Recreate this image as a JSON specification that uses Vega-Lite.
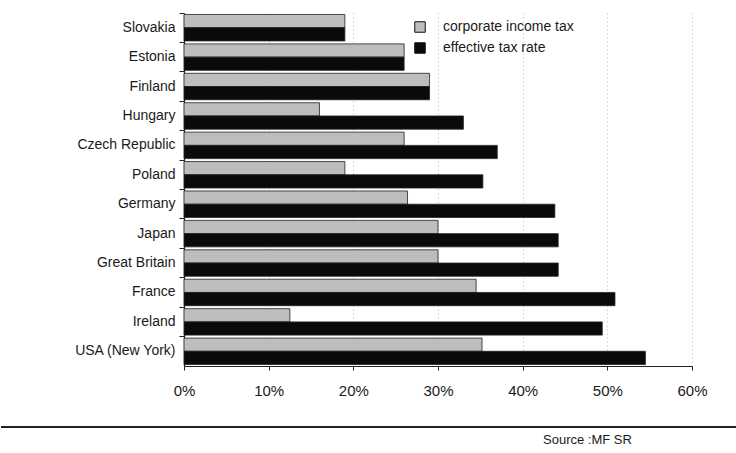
{
  "$schema": "https://vega.github.io/schema/vega-lite/v6.json",
  "padding": {"left": 0, "top": 12, "right": 0, "bottom": 0},
  "background": "white",
  "config": {"view": {"stroke": null}, "font": "Liberation Sans"},
  "spacing": 28,
  "vconcat": [
    {
      "width": 508,
      "height": 353,
      "data": {
        "values": [
          {"country": "Slovakia", "series": "corporate income tax", "value": 0.19},
          {"country": "Slovakia", "series": "effective tax rate", "value": 0.19},
          {"country": "Estonia", "series": "corporate income tax", "value": 0.26},
          {"country": "Estonia", "series": "effective tax rate", "value": 0.26},
          {"country": "Finland", "series": "corporate income tax", "value": 0.29},
          {"country": "Finland", "series": "effective tax rate", "value": 0.29},
          {"country": "Hungary", "series": "corporate income tax", "value": 0.16},
          {"country": "Hungary", "series": "effective tax rate", "value": 0.33},
          {"country": "Czech Republic", "series": "corporate income tax", "value": 0.26},
          {"country": "Czech Republic", "series": "effective tax rate", "value": 0.37},
          {"country": "Poland", "series": "corporate income tax", "value": 0.19},
          {"country": "Poland", "series": "effective tax rate", "value": 0.353},
          {"country": "Germany", "series": "corporate income tax", "value": 0.264},
          {"country": "Germany", "series": "effective tax rate", "value": 0.438},
          {"country": "Japan", "series": "corporate income tax", "value": 0.30},
          {"country": "Japan", "series": "effective tax rate", "value": 0.442},
          {"country": "Great Britain", "series": "corporate income tax", "value": 0.30},
          {"country": "Great Britain", "series": "effective tax rate", "value": 0.442},
          {"country": "France", "series": "corporate income tax", "value": 0.345},
          {"country": "France", "series": "effective tax rate", "value": 0.509},
          {"country": "Ireland", "series": "corporate income tax", "value": 0.125},
          {"country": "Ireland", "series": "effective tax rate", "value": 0.494},
          {"country": "USA (New York)", "series": "corporate income tax", "value": 0.352},
          {"country": "USA (New York)", "series": "effective tax rate", "value": 0.545}
        ]
      },
      "mark": {"type": "bar", "stroke": "#222", "strokeWidth": 0.8},
      "encoding": {
        "y": {
          "field": "country",
          "type": "nominal",
          "sort": ["Slovakia", "Estonia", "Finland", "Hungary", "Czech Republic", "Poland", "Germany", "Japan", "Great Britain", "France", "Ireland", "USA (New York)"],
          "scale": {"paddingInner": 0.1, "paddingOuter": 0.05},
          "axis": {
            "title": null,
            "minExtent": 184,
            "maxExtent": 184,
            "labelFontSize": 14,
            "labelColor": "#1a1a1a",
            "labelPadding": 4,
            "tickSize": 5,
            "tickColor": "#222",
            "domainColor": "#222",
            "domainWidth": 1.2,
            "bandPosition": -0.055
          }
        },
        "yOffset": {
          "field": "series",
          "sort": ["corporate income tax", "effective tax rate"],
          "scale": {"paddingInner": 0}
        },
        "x": {
          "field": "value",
          "type": "quantitative",
          "scale": {"domain": [0, 0.6]},
          "axis": {
            "title": null,
            "values": [0, 0.1, 0.2, 0.3, 0.4, 0.5, 0.6],
            "format": ".0%",
            "labelFlush": false,
            "labelFontSize": 15,
            "labelColor": "#1a1a1a",
            "labelPadding": 13,
            "tickSize": 4,
            "tickColor": "#222",
            "domainColor": "#222",
            "domainWidth": 1.2,
            "grid": true,
            "gridColor": "#888",
            "gridDash": [1, 3],
            "gridOpacity": 0.6
          }
        },
        "color": {
          "field": "series",
          "type": "nominal",
          "scale": {"domain": ["corporate income tax", "effective tax rate"], "range": ["#bdbdbd", "#0a0a0a"]},
          "legend": {
            "title": null,
            "orient": "none",
            "legendX": 229,
            "legendY": 7,
            "symbolType": "square",
            "symbolSize": 110,
            "symbolStrokeColor": "#111",
            "symbolStrokeWidth": 1,
            "labelFontSize": 14,
            "labelColor": "#1a1a1a",
            "labelOffset": 16,
            "rowPadding": 5
          }
        }
      }
    },
    {
      "width": 552,
      "height": 1,
      "data": {"values": [{"start": -183, "end": 552, "level": 1}]},
      "mark": {"type": "rule", "stroke": "#222", "strokeWidth": 1.8},
      "encoding": {
        "x": {"field": "start", "type": "quantitative", "scale": {"domain": [0, 552]}, "axis": null},
        "x2": {"field": "end"},
        "y": {"field": "level", "type": "quantitative", "scale": {"domain": [0, 1]}, "axis": null}
      },
      "title": {
        "text": "Source :MF SR",
        "orient": "bottom",
        "anchor": "end",
        "dx": -105,
        "offset": 6,
        "fontSize": 13,
        "fontWeight": "normal",
        "color": "#1a1a1a"
      }
    }
  ]
}
